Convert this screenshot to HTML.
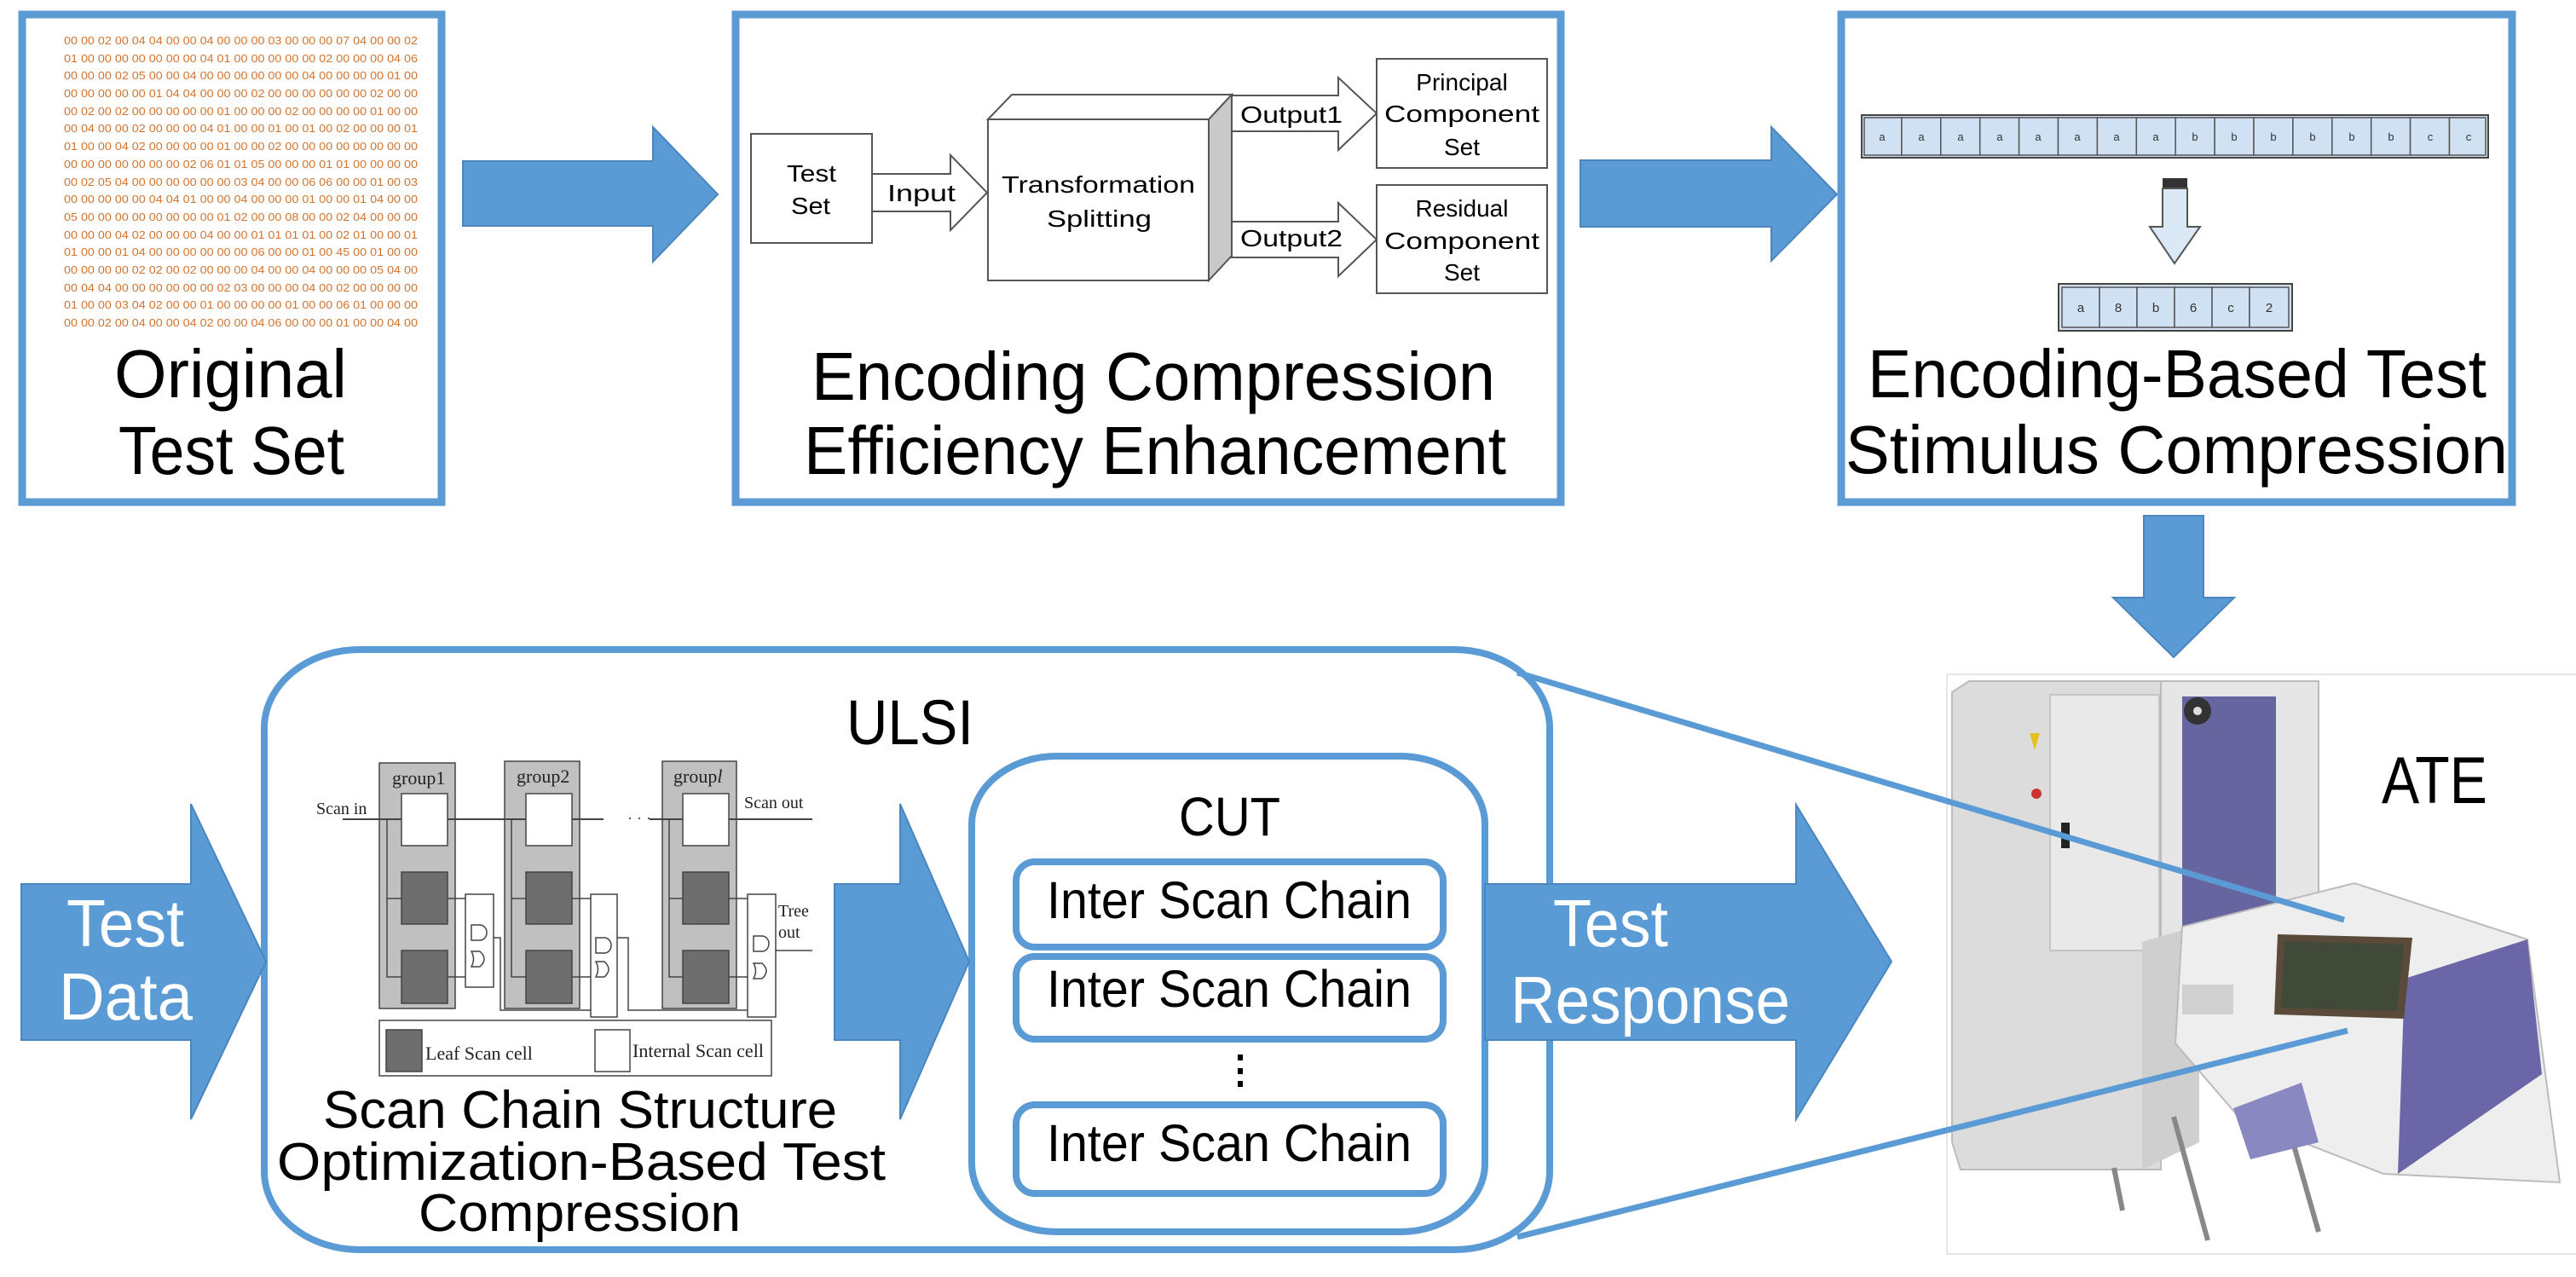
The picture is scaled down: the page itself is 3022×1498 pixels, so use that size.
<!DOCTYPE html>
<html><head><meta charset="utf-8"><style>
html,body{margin:0;padding:0;background:#fff;}
svg{display:block;}
text{font-family:"Liberation Sans",sans-serif;}
.big{font-size:80px;fill:#000;}
.hx{font-size:13px;fill:#d2742f;}
.sm{font-size:28px;fill:#000;}
.sr{font-family:"Liberation Serif",serif;fill:#222;}
.cell{fill:#cfe1f2;stroke:#555;stroke-width:1.5;}
.cl{font-size:13px;fill:#333;text-anchor:middle;}
</style></head><body>
<svg width="3022" height="1498" viewBox="0 0 3022 1498" xmlns="http://www.w3.org/2000/svg">
<rect width="3022" height="1498" fill="#fff"/>
<!-- Box 1 -->
<rect x="26" y="17" width="492" height="572" fill="#fff" stroke="#5b9bd5" stroke-width="9"/>
<g class="hx">
<text x="75" y="52" textLength="415" lengthAdjust="spacingAndGlyphs">00 00 02 00 04 04 00 00 04 00 00 00 03 00 00 00 07 04 00 00 02</text>
<text x="75" y="73" textLength="415" lengthAdjust="spacingAndGlyphs">01 00 00 00 00 00 00 00 04 01 00 00 00 00 00 02 00 00 00 04 06</text>
<text x="75" y="93" textLength="415" lengthAdjust="spacingAndGlyphs">00 00 00 02 05 00 00 04 00 00 00 00 00 00 04 00 00 00 00 01 00</text>
<text x="75" y="114" textLength="415" lengthAdjust="spacingAndGlyphs">00 00 00 00 00 01 04 04 00 00 00 02 00 00 00 00 00 00 02 00 00</text>
<text x="75" y="135" textLength="415" lengthAdjust="spacingAndGlyphs">00 02 00 02 00 00 00 00 00 01 00 00 00 02 00 00 00 00 01 00 00</text>
<text x="75" y="155" textLength="415" lengthAdjust="spacingAndGlyphs">00 04 00 00 02 00 00 00 04 01 00 00 01 00 01 00 02 00 00 00 01</text>
<text x="75" y="176" textLength="415" lengthAdjust="spacingAndGlyphs">01 00 00 04 02 00 00 00 00 01 00 00 02 00 00 00 00 00 00 00 00</text>
<text x="75" y="197" textLength="415" lengthAdjust="spacingAndGlyphs">00 00 00 00 00 00 00 02 06 01 01 05 00 00 00 01 01 00 00 00 00</text>
<text x="75" y="218" textLength="415" lengthAdjust="spacingAndGlyphs">00 02 05 04 00 00 00 00 00 00 03 04 00 00 06 06 00 00 01 00 03</text>
<text x="75" y="238" textLength="415" lengthAdjust="spacingAndGlyphs">00 00 00 00 00 04 04 01 00 00 04 00 00 00 01 00 00 01 04 00 00</text>
<text x="75" y="259" textLength="415" lengthAdjust="spacingAndGlyphs">05 00 00 00 00 00 00 00 00 01 02 00 00 08 00 00 02 04 00 00 00</text>
<text x="75" y="280" textLength="415" lengthAdjust="spacingAndGlyphs">00 00 00 04 02 00 00 00 04 00 00 01 01 01 01 00 02 01 00 00 01</text>
<text x="75" y="300" textLength="415" lengthAdjust="spacingAndGlyphs">01 00 00 01 04 00 00 00 00 00 00 06 00 00 01 00 45 00 01 00 00</text>
<text x="75" y="321" textLength="415" lengthAdjust="spacingAndGlyphs">00 00 00 00 02 02 00 02 00 00 00 04 00 00 04 00 00 00 05 04 00</text>
<text x="75" y="342" textLength="415" lengthAdjust="spacingAndGlyphs">00 04 04 00 00 00 00 00 00 02 03 00 00 00 04 00 02 00 00 00 00</text>
<text x="75" y="362" textLength="415" lengthAdjust="spacingAndGlyphs">01 00 00 03 04 02 00 00 01 00 00 00 00 01 00 00 06 01 00 00 00</text>
<text x="75" y="383" textLength="415" lengthAdjust="spacingAndGlyphs">00 00 02 00 04 00 00 04 02 00 00 04 06 00 00 00 01 00 00 04 00</text>
</g>
<text class="big" x="134" y="466" textLength="273" lengthAdjust="spacingAndGlyphs">Original</text>
<text class="big" x="139" y="556" textLength="265" lengthAdjust="spacingAndGlyphs">Test Set</text>

<!-- Arrow 1 -->
<polygon points="543,189 766,189 766,149 842,228 766,307 766,265 543,265" fill="#5b9bd5" stroke="#4a86bd" stroke-width="2"/>

<!-- Box 2 -->
<rect x="863" y="17" width="968" height="572" fill="#fff" stroke="#5b9bd5" stroke-width="9"/>
<rect x="881" y="157" width="142" height="128" fill="#fff" stroke="#555" stroke-width="2"/>
<text class="sm" x="923" y="213" textLength="58" lengthAdjust="spacingAndGlyphs">Test</text>
<text class="sm" x="928" y="251" textLength="46" lengthAdjust="spacingAndGlyphs">Set</text>
<polygon points="1023,204 1115,204 1115,182 1158,226 1115,270 1115,248 1023,248" fill="#fff" stroke="#555" stroke-width="2"/>
<text class="sm" x="1041" y="236" textLength="80" lengthAdjust="spacingAndGlyphs">Input</text>
<!-- cube -->
<polygon points="1159,140 1187,111 1445,111 1418,140" fill="#fff" stroke="#555" stroke-width="2"/>
<polygon points="1418,140 1445,111 1445,300 1418,329" fill="#c9c9c9" stroke="#555" stroke-width="2"/>
<rect x="1159" y="140" width="259" height="189" fill="#fff" stroke="#555" stroke-width="2"/>
<text class="sm" x="1175" y="226" textLength="227" lengthAdjust="spacingAndGlyphs">Transformation</text>
<text class="sm" x="1228" y="266" textLength="123" lengthAdjust="spacingAndGlyphs">Splitting</text>
<polygon points="1445,112 1570,112 1570,91 1615,133 1570,176 1570,154 1445,154" fill="#fff" stroke="#555" stroke-width="2"/>
<text class="sm" x="1455" y="144" textLength="120" lengthAdjust="spacingAndGlyphs">Output1</text>
<polygon points="1445,260 1570,260 1570,238 1615,281 1570,324 1570,302 1445,302" fill="#fff" stroke="#555" stroke-width="2"/>
<text class="sm" x="1455" y="289" textLength="120" lengthAdjust="spacingAndGlyphs">Output2</text>
<rect x="1615" y="69" width="200" height="128" fill="#fff" stroke="#555" stroke-width="2"/>
<text class="sm" x="1715" y="106" text-anchor="middle">Principal</text>
<text class="sm" x="1715" y="143" text-anchor="middle" textLength="182" lengthAdjust="spacingAndGlyphs">Component</text>
<text class="sm" x="1715" y="182" text-anchor="middle">Set</text>
<rect x="1615" y="217" width="200" height="127" fill="#fff" stroke="#555" stroke-width="2"/>
<text class="sm" x="1715" y="254" text-anchor="middle">Residual</text>
<text class="sm" x="1715" y="292" text-anchor="middle" textLength="182" lengthAdjust="spacingAndGlyphs">Component</text>
<text class="sm" x="1715" y="329" text-anchor="middle">Set</text>
<text class="big" x="952" y="469" textLength="802" lengthAdjust="spacingAndGlyphs">Encoding Compression</text>
<text class="big" x="943" y="556" textLength="824" lengthAdjust="spacingAndGlyphs">Efficiency Enhancement</text>

<!-- Arrow 2 -->
<polygon points="1854,188 2078,188 2078,149 2155,228 2078,306 2078,266 1854,266" fill="#5b9bd5" stroke="#4a86bd" stroke-width="2"/>

<!-- Box 3 -->
<rect x="2160" y="17" width="787" height="572" fill="#fff" stroke="#5b9bd5" stroke-width="9"/>
<g>
<rect x="2184" y="135" width="735" height="50" fill="#cfe1f2" stroke="#444" stroke-width="2"/>
<g class="cell">
<rect x="2187" y="138" width="43.9" height="44"/><rect x="2230.9" y="138" width="45.9" height="44"/><rect x="2276.8" y="138" width="45.9" height="44"/><rect x="2322.7" y="138" width="45.9" height="44"/><rect x="2368.6" y="138" width="45.9" height="44"/><rect x="2414.5" y="138" width="45.9" height="44"/><rect x="2460.4" y="138" width="45.9" height="44"/><rect x="2506.3" y="138" width="45.9" height="44"/><rect x="2552.2" y="138" width="45.9" height="44"/><rect x="2598.1" y="138" width="45.9" height="44"/><rect x="2644" y="138" width="45.9" height="44"/><rect x="2689.9" y="138" width="45.9" height="44"/><rect x="2735.8" y="138" width="45.9" height="44"/><rect x="2781.7" y="138" width="45.9" height="44"/><rect x="2827.6" y="138" width="45.9" height="44"/><rect x="2873.5" y="138" width="42.5" height="44"/>
</g>
<g class="cl">
<text x="2208" y="165">a</text><text x="2254" y="165">a</text><text x="2300" y="165">a</text><text x="2346" y="165">a</text><text x="2391" y="165">a</text><text x="2437" y="165">a</text><text x="2483" y="165">a</text><text x="2529" y="165">a</text><text x="2575" y="165">b</text><text x="2621" y="165">b</text><text x="2667" y="165">b</text><text x="2713" y="165">b</text><text x="2759" y="165">b</text><text x="2805" y="165">b</text><text x="2851" y="165">c</text><text x="2896" y="165">c</text>
</g>
<rect x="2537" y="209" width="29" height="12" fill="#333"/>
<polygon points="2537,221 2566,221 2566,266 2581,266 2551,309 2522,266 2537,266" fill="#dbe8f5" stroke="#555" stroke-width="2"/>
<rect x="2415" y="333" width="274" height="55" fill="#cfe1f2" stroke="#444" stroke-width="2"/>
<g class="cell">
<rect x="2419" y="337" width="44" height="47"/><rect x="2463" y="337" width="44" height="47"/><rect x="2507" y="337" width="44" height="47"/><rect x="2551" y="337" width="44" height="47"/><rect x="2595" y="337" width="44" height="47"/><rect x="2639" y="337" width="46" height="47"/>
</g>
<g class="cl" style="font-size:15px">
<text x="2441" y="366">a</text><text x="2485" y="366">8</text><text x="2529" y="366">b</text><text x="2573" y="366">6</text><text x="2617" y="366">c</text><text x="2662" y="366">2</text>
</g>
</g>
<text class="big" x="2191" y="466" textLength="726" lengthAdjust="spacingAndGlyphs">Encoding-Based Test</text>
<text class="big" x="2165" y="555" textLength="777" lengthAdjust="spacingAndGlyphs">Stimulus Compression</text>

<!-- Down arrow -->
<polygon points="2515,605 2585,605 2585,701 2621,701 2550,771 2479,701 2515,701" fill="#5b9bd5" stroke="#4a86bd" stroke-width="2"/>

<!-- ATE image -->
<rect x="2284" y="791" width="740" height="680" fill="#fff" stroke="#ccc" stroke-width="1"/>
<polygon points="2290,812 2310,799 2535,799 2535,1372 2300,1372 2290,1340" fill="#dcdcdc" stroke="#bbb" stroke-width="2"/>
<rect x="2405" y="815" width="128" height="300" fill="#e9e9e9" stroke="#c4c4c4" stroke-width="2"/>
<rect x="2535" y="799" width="185" height="345" fill="#e6e6e6" stroke="#bbb" stroke-width="2"/>
<rect x="2560" y="817" width="110" height="295" fill="#67659f"/>
<circle cx="2578" cy="834" r="16" fill="#333"/><circle cx="2578" cy="834" r="5" fill="#ddd"/>
<polygon points="2381,860 2393,860 2387,880" fill="#e6c020"/>
<circle cx="2389" cy="931" r="6" fill="#c33"/>
<rect x="2418" y="965" width="10" height="30" fill="#222"/>
<polygon points="2513,1105 2580,1085 2580,1340 2513,1372" fill="#cfcfcf"/>
<g stroke="#888" stroke-width="6"><line x1="2550" y1="1310" x2="2590" y2="1455"/><line x1="2690" y1="1340" x2="2720" y2="1445"/><line x1="2480" y1="1370" x2="2490" y2="1420"/></g>
<polygon points="2552,1224 2560,1087 2762,1036 2965,1102 3003,1387 2796,1377 2627,1311" fill="#eeeeee" stroke="#bbb" stroke-width="2"/>
<polygon points="2821,1148 2965,1102 2982,1260 2813,1377" fill="#6a66a8"/>
<polygon points="2672,1096 2830,1100 2820,1195 2668,1190" fill="#5a4a3a"/>
<polygon points="2680,1104 2820,1108 2812,1186 2676,1182" fill="#3b4a3a" opacity="0.8"/>
<polygon points="2620,1300 2700,1270 2720,1340 2640,1360" fill="#8a88c0"/>
<rect x="2560" y="1155" width="60" height="35" fill="#d0d0d0"/>
<text x="2794" y="942" style="font-size:78px" textLength="124" lengthAdjust="spacingAndGlyphs">ATE</text>

<!-- ULSI box -->
<path d="M1115,787 L1780,789" stroke="none"/>
<rect x="310" y="762" width="1508" height="704" rx="112" ry="92" fill="none" stroke="#5b9bd5" stroke-width="8"/>
<text x="993" y="873" style="font-size:74px" textLength="149" lengthAdjust="spacingAndGlyphs">ULSI</text>

<!-- scan chain diagram -->
<g stroke="#444" stroke-width="1.5">
<rect x="445" y="895" width="89" height="288" fill="#c0c0c0"/>
<rect x="592" y="893" width="88" height="290" fill="#c0c0c0"/>
<rect x="777" y="893" width="87" height="290" fill="#c0c0c0"/>
<line x1="402" y1="961" x2="708" y2="961" stroke-width="2"/>
<line x1="762" y1="961" x2="953" y2="961" stroke-width="2"/>
<rect x="471" y="931" width="54" height="61" fill="#fff"/>
<rect x="617" y="931" width="54" height="61" fill="#fff"/>
<rect x="801" y="931" width="54" height="61" fill="#fff"/>
<rect x="471" y="1023" width="54" height="61" fill="#6e6e6e"/>
<rect x="471" y="1115" width="54" height="62" fill="#6e6e6e"/>
<rect x="617" y="1023" width="54" height="61" fill="#6e6e6e"/>
<rect x="617" y="1115" width="54" height="62" fill="#6e6e6e"/>
<rect x="801" y="1023" width="54" height="61" fill="#6e6e6e"/>
<rect x="801" y="1115" width="54" height="62" fill="#6e6e6e"/>
<rect x="546" y="1049" width="33" height="109" fill="#fff"/>
<rect x="693" y="1049" width="31" height="144" fill="#fff"/>
<rect x="877" y="1049" width="33" height="144" fill="#fff"/>
<polyline points="579,1100 587,1100 587,1185 693,1185" fill="none"/>
<polyline points="724,1100 737,1100 737,1185 877,1185" fill="none"/>
<line x1="910" y1="1115" x2="953" y2="1115"/>
<polyline points="454,961 454,1146 471,1146" fill="none"/>
<line x1="454" y1="1054" x2="471" y2="1054"/>
<polyline points="600,961 600,1146 617,1146" fill="none"/>
<line x1="600" y1="1054" x2="617" y2="1054"/>
<polyline points="785,961 785,1146 801,1146" fill="none"/>
<line x1="785" y1="1054" x2="801" y2="1054"/>
<line x1="525" y1="1054" x2="546" y2="1054"/><line x1="525" y1="1146" x2="546" y2="1146"/>
<line x1="671" y1="1054" x2="693" y2="1054"/><line x1="671" y1="1146" x2="693" y2="1146"/>
<line x1="855" y1="1054" x2="877" y2="1054"/><line x1="855" y1="1146" x2="877" y2="1146"/>
<path d="M553,1085 h10 a8,9 0 0 1 0,18 h-10 z" fill="#fff"/>
<path d="M553,1116 h10 q10,9 0,18 h-10 q5,-9 0,-18 z" fill="#fff"/>
<path d="M699,1100 h10 a8,9 0 0 1 0,18 h-10 z" fill="#fff"/>
<path d="M699,1128 h10 q10,9 0,18 h-10 q5,-9 0,-18 z" fill="#fff"/>
<path d="M884,1098 h10 a8,9 0 0 1 0,18 h-10 z" fill="#fff"/>
<path d="M884,1130 h10 q10,9 0,18 h-10 q5,-9 0,-18 z" fill="#fff"/>
<rect x="445" y="1197" width="460" height="65" fill="#fff"/>
<rect x="453" y="1208" width="42" height="49" fill="#6e6e6e"/>
<rect x="698" y="1208" width="41" height="49" fill="#fff"/>
</g>
<text x="736" y="965" style="font-size:18px;fill:#444">· · ·</text>
<text class="sr" x="460" y="920" style="font-size:22px">group1</text>
<text class="sr" x="606" y="918" style="font-size:22px">group2</text>
<text class="sr" x="790" y="918" style="font-size:22px">group<tspan font-style="italic">l</tspan></text>
<text class="sr" x="371" y="955" style="font-size:20px">Scan in</text>
<text class="sr" x="873" y="948" style="font-size:20px">Scan out</text>
<text class="sr" x="913" y="1075" style="font-size:20px">Tree</text>
<text class="sr" x="913" y="1100" style="font-size:20px">out</text>
<text class="sr" x="499" y="1243" style="font-size:22px">Leaf Scan cell</text>
<text class="sr" x="742" y="1240" style="font-size:22px">Internal Scan cell</text>

<text x="379" y="1323" style="font-size:62px" textLength="603" lengthAdjust="spacingAndGlyphs">Scan Chain Structure</text>
<text x="325" y="1384" style="font-size:62px" textLength="714" lengthAdjust="spacingAndGlyphs">Optimization-Based Test</text>
<text x="491" y="1444" style="font-size:62px" textLength="378" lengthAdjust="spacingAndGlyphs">Compression</text>

<!-- CUT box -->
<rect x="1140" y="887" width="602" height="558" rx="100" ry="80" fill="#fff" stroke="#5b9bd5" stroke-width="8"/>
<text x="1383" y="980" style="font-size:64px" textLength="119" lengthAdjust="spacingAndGlyphs">CUT</text>
<rect x="1192" y="1011" width="501" height="100" rx="22" fill="#fff" stroke="#5b9bd5" stroke-width="8"/>
<rect x="1192" y="1122" width="501" height="97" rx="22" fill="#fff" stroke="#5b9bd5" stroke-width="8"/>
<rect x="1192" y="1296" width="501" height="104" rx="22" fill="#fff" stroke="#5b9bd5" stroke-width="8"/>
<text x="1228" y="1077" style="font-size:61px" textLength="428" lengthAdjust="spacingAndGlyphs">Inter Scan Chain</text>
<text x="1228" y="1181" style="font-size:61px" textLength="428" lengthAdjust="spacingAndGlyphs">Inter Scan Chain</text>
<text x="1228" y="1362" style="font-size:61px" textLength="428" lengthAdjust="spacingAndGlyphs">Inter Scan Chain</text>
<g fill="#000"><rect x="1452" y="1237" width="6" height="7"/><rect x="1452" y="1253" width="6" height="7"/><rect x="1452" y="1268" width="6" height="7"/></g>

<!-- Arrows bottom -->
<polygon points="25,1037 224,1037 224,943 312,1128 224,1313 224,1220 25,1220" fill="#5b9bd5" stroke="#4a86bd" stroke-width="2"/>
<text x="78" y="1110" style="font-size:78px;fill:#fff" textLength="138" lengthAdjust="spacingAndGlyphs">Test</text>
<text x="69" y="1196" style="font-size:78px;fill:#fff" textLength="157" lengthAdjust="spacingAndGlyphs">Data</text>
<polygon points="979,1037 1056,1037 1056,943 1137,1128 1056,1313 1056,1220 979,1220" fill="#5b9bd5" stroke="#4a86bd" stroke-width="2"/>
<polygon points="1742,1037 2107,1037 2107,944 2219,1128 2107,1313 2107,1220 1742,1220" fill="#5b9bd5" stroke="#4a86bd" stroke-width="2"/>
<text x="1822" y="1110" style="font-size:78px;fill:#fff" textLength="135" lengthAdjust="spacingAndGlyphs">Test</text>
<text x="1772" y="1200" style="font-size:78px;fill:#fff" textLength="328" lengthAdjust="spacingAndGlyphs">Response</text>

<!-- cone lines -->
<line x1="1780" y1="789" x2="2750" y2="1079" stroke="#5b9bd5" stroke-width="7"/>
<line x1="1780" y1="1451" x2="2754" y2="1209" stroke="#5b9bd5" stroke-width="7"/>
</svg>
</body></html>
